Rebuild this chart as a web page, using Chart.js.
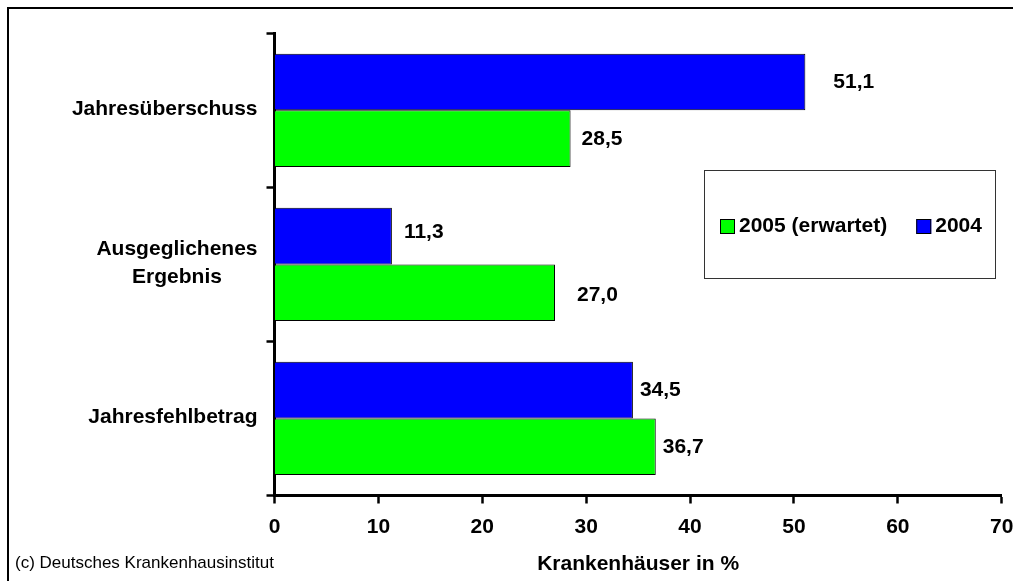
<!DOCTYPE html>
<html>
<head>
<meta charset="utf-8">
<script src="https://cdn.jsdelivr.net/npm/chart.js@4/dist/chart.umd.min.js"></script>
<style>
  html, body { margin: 0; padding: 0; background: #fff; }
  canvas { display: block; }
</style>
</head>
<body>
<canvas id="chart" width="1013" height="581"></canvas>
<script>
// Results of German hospitals: share with surplus, break-even and deficit
const categories = ['Jahresüberschuss', ['Ausgeglichenes', 'Ergebnis'], 'Jahresfehlbetrag'];
const seriesNames = ['2004', '2005 (erwartet)'];
const values2004 = [51.1, 11.3, 34.5];
const values2005 = [28.5, 27.0, 36.7];
const xTickValues = [0, 10, 20, 30, 40, 50, 60, 70];
const axisTitle = 'Krankenhäuser in %';
const sourceNote = '(c) Deutsches Krankenhausinstitut';

// Styling
const FONT = "'Liberation Sans', Arial, Helvetica, sans-serif";
const seriesColors = ['#0000ff', '#00ff00'];
// per-label nudges [dx, dy] in px for the value labels, one row per series
const labelNudge = [
  [[28, 0], [12, -4], [7, 0]],
  [[11, 1], [22, 2], [7, 0]]
];

const fmt = v => v.toFixed(1).replace('.', ',');

// White page with the thick black frame
const framePlugin = {
  id: 'frame',
  beforeDraw(chart) {
    const ctx = chart.ctx;
    ctx.save();
    ctx.fillStyle = '#fff';
    ctx.fillRect(0, 0, chart.width, chart.height);
    ctx.fillStyle = '#000';
    ctx.fillRect(7, 7, chart.width, 2);
    ctx.fillRect(7, 7, 2, chart.height);
    ctx.restore();
  }
};

// Category names left of the y axis: block right-aligned, lines centred inside it
const categoryLabelPlugin = {
  id: 'categoryLabels',
  afterDraw(chart) {
    const ctx = chart.ctx;
    const y = chart.scales.y;
    const right = chart.chartArea.left - 17;
    ctx.save();
    ctx.font = 'bold 21px ' + FONT;
    ctx.fillStyle = '#000';
    ctx.textAlign = 'center';
    ctx.textBaseline = 'middle';
    chart.data.labels.forEach((lab, i) => {
      const lines = Array.isArray(lab) ? lab : [lab];
      const widest = Math.max(...lines.map(l => ctx.measureText(l).width));
      const cx = right - widest / 2;
      const cy = y.getPixelForValue(i);
      const step = 28;
      lines.forEach((l, k) => {
        ctx.fillText(l, cx, cy + (k - (lines.length - 1) / 2) * step - 1);
      });
    });
    ctx.restore();
  }
};

// Value labels at the end of each bar
const valueLabelPlugin = {
  id: 'valueLabels',
  afterDatasetsDraw(chart) {
    const ctx = chart.ctx;
    ctx.save();
    ctx.font = 'bold 21px ' + FONT;
    ctx.fillStyle = '#000';
    ctx.textAlign = 'left';
    ctx.textBaseline = 'middle';
    chart.data.datasets.forEach((ds, di) => {
      const meta = chart.getDatasetMeta(di);
      meta.data.forEach((bar, i) => {
        const [dx, dy] = labelNudge[di][i];
        ctx.fillText(fmt(ds.data[i]), bar.x + dx, bar.y + dy);
      });
    });
    ctx.restore();
  }
};

// Boxed legend inside the plot, later year first
const legendBoxPlugin = {
  id: 'legendBox',
  afterDraw(chart) {
    const ctx = chart.ctx;
    const box = { x: 704.5, y: 170.5, w: 291, h: 108 };
    ctx.save();
    ctx.strokeStyle = '#333';
    ctx.lineWidth = 1;
    ctx.strokeRect(box.x, box.y, box.w, box.h);
    ctx.font = 'bold 21px ' + FONT;
    ctx.textAlign = 'left';
    ctx.textBaseline = 'middle';
    const cy = 226.5;
    let x = 720;
    const items = chart.data.datasets.slice().reverse();
    items.forEach(ds => {
      ctx.fillStyle = ds.backgroundColor;
      ctx.fillRect(x, cy - 7.5, 15, 15);
      ctx.strokeStyle = '#000';
      ctx.strokeRect(x + 0.5, cy - 7.5 + 0.5, 14, 14);
      ctx.fillStyle = '#000';
      ctx.fillText(ds.label, x + 19, cy);
      x += 19 + ctx.measureText(ds.label).width + 29;
    });
    ctx.restore();
  }
};

// Source note bottom left
const sourcePlugin = {
  id: 'sourceNote',
  afterDraw(chart) {
    const ctx = chart.ctx;
    ctx.save();
    ctx.font = '17px ' + FONT;
    ctx.fillStyle = '#000';
    ctx.textAlign = 'left';
    ctx.textBaseline = 'alphabetic';
    ctx.fillText(sourceNote, 15, 568);
    ctx.restore();
  }
};

new Chart(document.getElementById('chart'), {
  type: 'bar',
  data: {
    labels: categories,
    datasets: [
      { label: seriesNames[0], data: values2004, backgroundColor: seriesColors[0] },
      { label: seriesNames[1], data: values2005, backgroundColor: seriesColors[1] }
    ]
  },
  options: {
    indexAxis: 'y',
    responsive: false,
    animation: false,
    events: [],
    devicePixelRatio: 1,
    layout: { padding: { left: 0, top: 33.3, right: 11.3, bottom: 0 } },
    datasets: {
      bar: {
        borderColor: '#000',
        borderWidth: 1,
        barPercentage: 1.0,
        categoryPercentage: 0.735
      }
    },
    plugins: {
      legend: { display: false },
      tooltip: { enabled: false },
      title: { display: false }
    },
    scales: {
      x: {
        type: 'linear',
        min: 0,
        max: 70,
        afterBuildTicks(scale) {
          scale.ticks = xTickValues.map(v => ({ value: v }));
        },
        afterFit(scale) {
          scale.height = 85.5;
          scale.paddingLeft = 0;
          scale.paddingRight = 0;
        },
        grid: {
          drawOnChartArea: false,
          drawTicks: true,
          tickLength: 8,
          tickWidth: 2.5,
          tickColor: '#000'
        },
        border: { display: true, color: '#000', width: 3 },
        ticks: {
          color: '#000',
          padding: 11,
          font: { family: FONT, size: 21, weight: 'bold' },
          callback: v => String(v)
        },
        title: {
          display: true,
          text: axisTitle,
          color: '#000',
          font: { family: FONT, size: 21, weight: 'bold' },
          padding: { top: 0, bottom: 4 }
        }
      },
      y: {
        type: 'category',
        offset: true,
        afterFit(scale) {
          scale.width = 274.5;
          scale.paddingTop = 0;
          scale.paddingBottom = 0;
        },
        grid: {
          offset: true,
          drawOnChartArea: false,
          drawTicks: true,
          tickLength: 8,
          tickWidth: 2.5,
          tickColor: '#000'
        },
        border: { display: true, color: '#000', width: 3 },
        ticks: { display: false }
      }
    }
  },
  plugins: [framePlugin, categoryLabelPlugin, valueLabelPlugin, legendBoxPlugin, sourcePlugin]
});
</script>
</body>
</html>
